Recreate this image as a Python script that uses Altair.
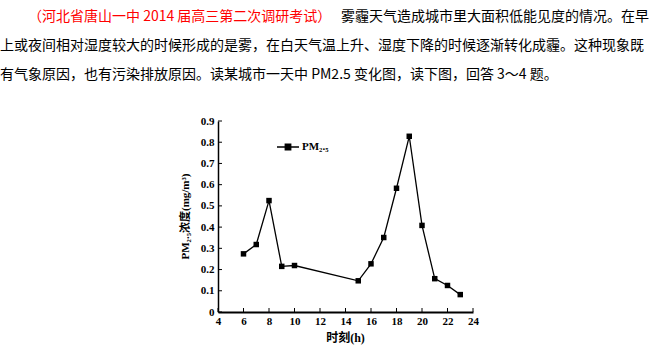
import altair as alt
import pandas as pd

# ---- data ----
hours = [6, 7, 8, 9, 10, 15, 16, 17, 18, 19, 20, 21, 22, 23]
pm25 = [0.274, 0.318, 0.525, 0.215, 0.219, 0.147, 0.227, 0.351, 0.583, 0.828, 0.408, 0.157, 0.125, 0.082]
series_name = "PM₂.₅"
x_ticks = [4, 6, 8, 10, 12, 14, 16, 18, 20, 22, 24]
y_ticks = [0, 0.1, 0.2, 0.3, 0.4, 0.5, 0.6, 0.7, 0.8, 0.9]

intro_red = "（河北省唐山一中 2014 届高三第二次调研考试）"
intro_line1 = "雾霾天气造成城市里大面积低能见度的情况。在早"
intro_line2 = "上或夜间相对湿度较大的时候形成的是雾，在白天气温上升、湿度下降的时候逐渐转化成霾。这种现象既"
intro_line3 = "有气象原因，也有污染排放原因。读某城市一天中 PM2.5 变化图，读下图，回答 3～4 题。"
x_title = "时刻(h)"
y_title = "PM₂.₅浓度(mg/m³)"

# ---- layout ----
PLOT_W, PLOT_H = 255, 191
PAD_L, PAD_T = 218, 121
CJK = "Noto Sans CJK SC"
SERIF = "Liberation Serif, Noto Sans CJK SC"

df = pd.DataFrame({"hour": hours, "pm": pm25, "series": [series_name] * len(hours)})

xscale = alt.Scale(domain=[4, 24], nice=False, zero=False)
yscale = alt.Scale(domain=[0, 0.9], nice=False)

x_axis = alt.Axis(
    values=x_ticks, format="d", ticks=False, grid=False, tickCount=len(x_ticks),
    labelOverlap=False, labelFlush=False, labelBound=False,
    domainColor="black", domainWidth=2,
    labelFont=SERIF, labelFontWeight="bold", labelFontSize=11, labelColor="black",
    labelPadding=3,
    title=x_title, titleFont=SERIF, titleFontWeight="bold", titleFontSize=12,
    titleColor="black", titleX=127, titleY=25, titleBaseline="middle",
)
y_axis = alt.Axis(
    values=y_ticks, ticks=False, grid=False, tickCount=len(y_ticks),
    labelOverlap=False, labelFlush=False, labelBound=False,
    labelExpr="datum.value == 0 ? '0' : format(datum.value, '.1f')",
    domainColor="black", domainWidth=1.5,
    labelFont=SERIF, labelFontWeight="bold", labelFontSize=11, labelColor="black",
    labelPadding=4,
    title=y_title, titleFont=SERIF, titleFontWeight="bold", titleFontSize=11,
    titleColor="black", titleX=-33, titleY=95, titleBaseline="middle", titleAngle=270,
)


def xe():
    return alt.X("hour:Q", scale=xscale, axis=x_axis)


def ye():
    return alt.Y("pm:Q", scale=yscale, axis=y_axis)


line = alt.Chart(df).mark_line(color="black", strokeWidth=1.3).encode(x=xe(), y=ye())

points = alt.Chart(df).mark_point(shape="square", filled=True, size=30, opacity=1).encode(
    x=xe(),
    y=ye(),
    color=alt.Color(
        "series:N",
        scale=alt.Scale(range=["black"]),
        legend=alt.Legend(
            title=None, orient="none", legendX=58, legendY=14,
            symbolType="M-1,0H1M-0.25,-0.25H0.25V0.25H-0.25Z",
            symbolSize=484, symbolStrokeWidth=1.3,
            symbolStrokeColor="black", symbolFillColor="black",
            labelFont=SERIF, labelFontSize=11, labelFontWeight="bold", labelColor="black",
            labelOffset=2,
        ),
    ),
)

# inward tick marks
ytick_df = pd.DataFrame({"pm": y_ticks})
xtick_df = pd.DataFrame({"hour": x_ticks})
yticks = alt.Chart(ytick_df).mark_rule(color="black", strokeWidth=1).encode(
    y=ye(), x=alt.value(0), x2=alt.value(4)
)
xticks = alt.Chart(xtick_df).mark_rule(color="black", strokeWidth=1).encode(
    x=xe(), y=alt.value(PLOT_H), y2=alt.value(PLOT_H - 4)
)


def text_line(txt, x, y, color="black"):
    return alt.Chart(pd.DataFrame({"t": [txt]})).mark_text(
        align="left", baseline="middle", font=CJK, fontSize=14, color=color
    ).encode(text="t:N", x=alt.value(x - PAD_L), y=alt.value(y - PAD_T))


texts = [
    text_line(intro_red, 28, 17, "#ff0000"),
    text_line(intro_line1, 341, 17),
    text_line(intro_line2, 0, 46),
    text_line(intro_line3, 0, 75),
]

chart = alt.layer(line, points, yticks, xticks, *texts).properties(
    width=PLOT_W,
    height=PLOT_H,
    autosize=alt.AutoSizeParams(type="none"),
    padding={"left": PAD_L, "top": PAD_T, "right": 656 - PAD_L - PLOT_W, "bottom": 351 - PAD_T - PLOT_H},
    background="white",
).configure_view(stroke=None).configure_axis(labelOverlap=False)

chart.save("out.html", embed_options={"renderer": "svg", "actions": False})
